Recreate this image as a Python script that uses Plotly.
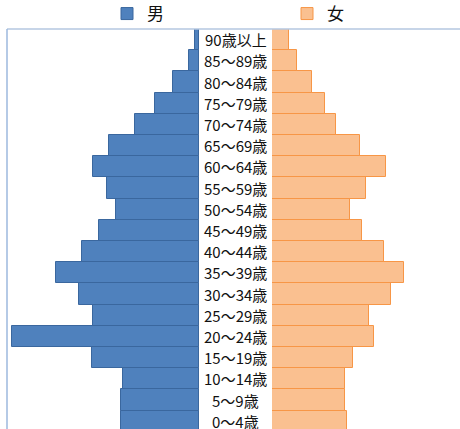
import plotly.graph_objects as go

# Age groups, youngest first (bottom of the pyramid)
age_groups = ["0～4歳", "5～9歳", "10～14歳", "15～19歳", "20～24歳", "25～29歳",
              "30～34歳", "35～39歳", "40～44歳", "45～49歳", "50～54歳", "55～59歳",
              "60～64歳", "65～69歳", "70～74歳", "75～79歳", "80～84歳", "85～89歳",
              "90歳以上"]

male = [777, 777, 763, 1073, 1873, 1063, 1197, 1430, 1170, 1003, 827, 920,
        1063, 900, 637, 437, 263, 100, 43]
female = [753, 727, 727, 813, 1017, 967, 1187, 1320, 1117, 897, 783, 937,
          1137, 877, 637, 527, 397, 253, 167]

W, H = 460, 429
ML, MT = 7, 29
PW, PH = W - ML, H - MT

def px_x(p):
    return (p - ML) / PW

def px_y(p):
    return (H - p) / PH

MALE_FILL, MALE_LINE = "#4F81BD", "#3A679E"
FEMALE_FILL, FEMALE_LINE = "#FAC090", "#F79646"
FONT = "Noto Sans CJK JP"

fig = go.Figure()
fig.add_trace(go.Bar(
    y=list(range(len(age_groups))), x=male, orientation="h", name="男",
    marker=dict(color=MALE_FILL, line=dict(color=MALE_LINE, width=1)),
    width=1, xaxis="x", yaxis="y", legend="legend", showlegend=True))
fig.add_trace(go.Bar(
    y=list(range(len(age_groups))), x=female, orientation="h", name="女",
    marker=dict(color=FEMALE_FILL, line=dict(color=FEMALE_LINE, width=1)),
    width=1, xaxis="x2", yaxis="y2", legend="legend2", showlegend=True))

# Age labels centred between the two halves
for i, g in enumerate(age_groups):
    fig.add_annotation(x=px_x(235.5), y=i, xref="paper", yref="y", text=g,
                       showarrow=False, xanchor="center", yanchor="middle",
                       font=dict(family=FONT, size=15, color="#111111"))

yrange = [18.5 - PH / 21.2, 18.5]
legend_style = dict(orientation="h", xanchor="left", yanchor="middle",
                    y=px_y(14),
                    font=dict(family=FONT, size=17, color="#111111"),
                    bgcolor="rgba(0,0,0,0)")
fig.update_layout(
    width=W, height=H,
    margin=dict(l=ML, r=0, t=MT, b=0, autoexpand=False),
    paper_bgcolor="white", plot_bgcolor="white",
    bargap=0,
    xaxis=dict(domain=[0, px_x(199)], range=[1920, 0], visible=False),
    xaxis2=dict(domain=[px_x(272), 1], range=[0, 1880], visible=False),
    yaxis=dict(range=yrange, visible=False, anchor="x"),
    yaxis2=dict(range=yrange, visible=False, anchor="x2", matches="y"),
    legend=dict(legend_style, x=px_x(107)),
    legend2=dict(legend_style, x=px_x(287)),
    shapes=[
        dict(type="line", xref="paper", yref="paper", x0=0, x1=1, y0=1, y1=1,
             line=dict(color="#B4C7E0", width=1.5)),
        dict(type="line", xref="paper", yref="paper", x0=0, x1=0, y0=0, y1=1,
             line=dict(color="#9DB9DE", width=1.5)),
    ],
)

fig.write_html("out.html")
